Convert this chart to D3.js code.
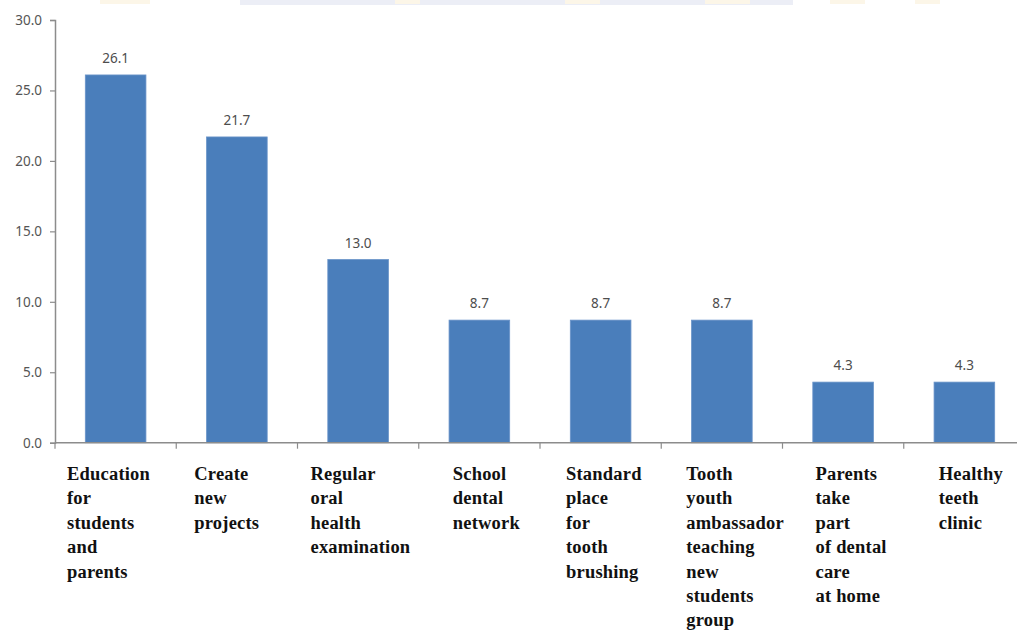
<!DOCTYPE html>
<html>
<head>
<meta charset="utf-8">
<script src="https://cdn.jsdelivr.net/npm/d3@7"></script>
<style>
  html, body { margin: 0; padding: 0; background: #ffffff; }
  svg { display: block; }
</style>
</head>
<body>
<svg id="chart" width="1017" height="630"></svg>
<script>
// Activities and the share of responses (%) for each
const categories = [
  "Education|for|students|and|parents",
  "Create|new|projects",
  "Regular|oral|health|examination",
  "School|dental|network",
  "Standard|place|for|tooth|brushing",
  "Tooth|youth|ambassador|teaching|new|students|group",
  "Parents|take|part|of dental|care|at home",
  "Healthy|teeth|clinic"
];
const values = [26.1, 21.7, 13.0, 8.7, 8.7, 8.7, 4.3, 4.3];
const yTicks = [0, 5, 10, 15, 20, 25, 30];

// Horizontal offset of each label block inside its band
const labelShift = [12, 18, 13, 34, 26, 25, 33, 35];

const svg = d3.select("#chart");
const W = 1017, H = 630;

// faint banner strip along the top edge
svg.append("rect").attr("x", 240).attr("y", 0).attr("width", 553).attr("height", 5).attr("fill", "#eceef6");
[[100, 50], [395, 25], [565, 35], [705, 45], [830, 35], [915, 25]].forEach(([x, w]) => {
  svg.append("rect").attr("x", x).attr("y", 0).attr("width", w).attr("height", 4)
    .attr("fill", "#fcf6e8");
});

const x0 = 55, x1 = 1025, yTop = 20, yBase = 442.7;

const x = d3.scaleBand()
  .domain(d3.range(categories.length))
  .range([x0, x1])
  .paddingInner(0.5)
  .paddingOuter(0.25);

const y = d3.scaleLinear().domain([0, 30]).range([yBase, yTop]);

// y axis
const yAxis = svg.append("g")
  .attr("transform", `translate(${x0},0)`)
  .call(d3.axisLeft(y).tickValues(yTicks).tickFormat(d3.format(".1f")).tickSize(5).tickPadding(8));
yAxis.select(".domain").attr("stroke", "#8c8c8c").attr("stroke-width", 1.5);
yAxis.selectAll(".tick line").attr("stroke", "#8c8c8c").attr("stroke-width", 1.2);
yAxis.selectAll(".tick text")
  .attr("fill", "#555555")
  .style("font-family", "'Noto Sans', sans-serif")
  .style("font-size", "13.5px");

// bars
svg.append("g").selectAll("rect")
  .data(values)
  .join("rect")
  .attr("x", (d, i) => x(i))
  .attr("y", d => y(d))
  .attr("width", x.bandwidth())
  .attr("height", d => yBase - y(d))
  .attr("fill", "#4a7ebb")
  .attr("stroke", "#6a94c9")
  .attr("stroke-width", 0.8);

// value labels
svg.append("g").selectAll("text")
  .data(values)
  .join("text")
  .attr("x", (d, i) => x(i) + x.bandwidth() / 2)
  .attr("y", d => y(d) - 12)
  .attr("text-anchor", "middle")
  .attr("fill", "#4d4d4d")
  .style("font-family", "'Noto Sans', sans-serif")
  .style("font-size", "13.5px")
  .text(d => d.toFixed(1));

// x axis baseline with boundary ticks
const xAxisG = svg.append("g");
xAxisG.append("line")
  .attr("x1", x0).attr("x2", W).attr("y1", yBase).attr("y2", yBase)
  .attr("stroke", "#8c8c8c").attr("stroke-width", 1.5);
const step = x.step();
xAxisG.selectAll("line.tick")
  .data(d3.range(categories.length + 1))
  .join("line")
  .attr("class", "tick")
  .attr("x1", i => x0 + i * step).attr("x2", i => x0 + i * step)
  .attr("y1", yBase).attr("y2", yBase + 6)
  .attr("stroke", "#8c8c8c").attr("stroke-width", 1.2);

// category labels
const lab = svg.append("g").selectAll("text")
  .data(categories)
  .join("text")
  .attr("x", (d, i) => x0 + i * step + labelShift[i])
  .attr("y", 480)
  .attr("fill", "#111111")
  .style("font-family", "'Liberation Serif', 'Times New Roman', serif")
  .style("font-weight", "bold")
  .style("font-size", "18.5px")
  .style("letter-spacing", "0.2px");
lab.each(function (d, i) {
  const t = d3.select(this);
  d.split("|").forEach((line, k) => {
    t.append("tspan")
      .attr("x", x0 + i * step + labelShift[i])
      .attr("dy", k === 0 ? 0 : 24.4)
      .text(line);
  });
});
</script>
</body>
</html>
